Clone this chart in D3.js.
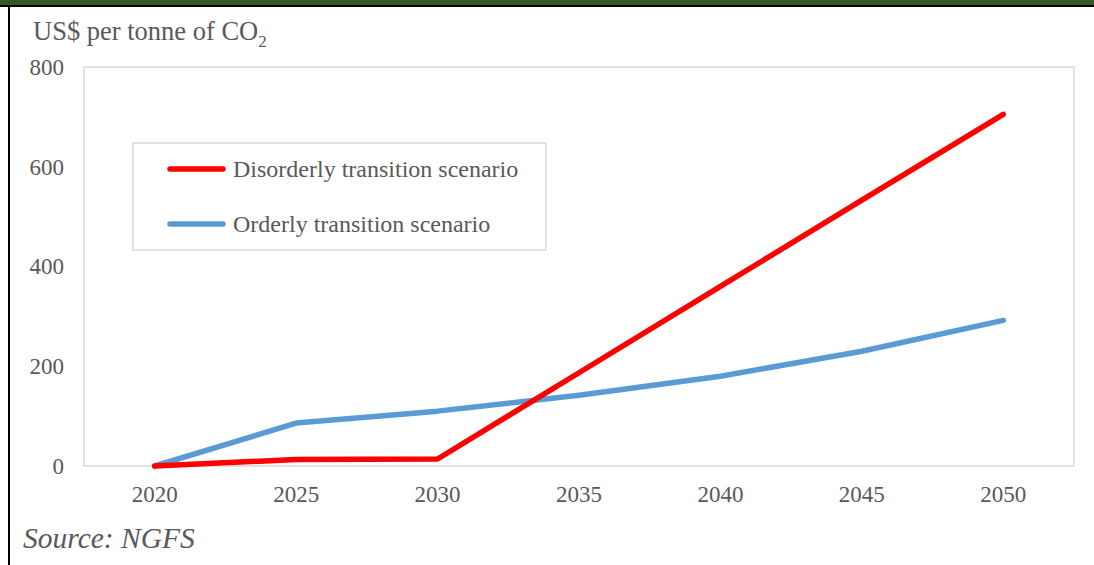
<!DOCTYPE html>
<html>
<head>
<meta charset="utf-8">
<script src="https://cdn.jsdelivr.net/npm/d3@7"></script>
<style>
  html, body { margin: 0; padding: 0; background: #fff; }
  svg { display: block; }
</style>
</head>
<body>
<svg id="chart" width="1094" height="565"></svg>
<script>
const years = ["2020", "2025", "2030", "2035", "2040", "2045", "2050"];
const disorderly = [0, 13, 14, 187, 360, 533, 705];
const orderly = [0, 86, 110, 142, 180, 230, 292];
const yTicks = [0, 200, 400, 600, 800];
const seriesNames = ["Disorderly transition scenario", "Orderly transition scenario"];
const seriesColors = ["#ff0000", "#5b9bd5"];

const svg = d3.select("#chart");
const W = 1094, H = 565;
const font = "'Liberation Serif', 'Times New Roman', serif";

// frame
svg.append("rect").attr("x", 0).attr("y", 0).attr("width", W).attr("height", 5).attr("fill", "#375623");
svg.append("rect").attr("x", 0).attr("y", 5).attr("width", W).attr("height", 2).attr("fill", "#000");
svg.append("rect").attr("x", 8).attr("y", 5).attr("width", 2).attr("height", H - 5).attr("fill", "#000");

const plot = { left: 84, top: 67, right: 1074, bottom: 466 };

const x = d3.scaleBand().domain(years).range([plot.left, plot.right]);
const y = d3.scaleLinear().domain([0, 800]).range([plot.bottom, plot.top]);

// plot area border
svg.append("rect")
  .attr("x", plot.left).attr("y", plot.top)
  .attr("width", plot.right - plot.left).attr("height", plot.bottom - plot.top)
  .attr("fill", "none").attr("stroke", "#d9d9d9").attr("stroke-width", 1.5);

// y axis
const yAxis = d3.axisLeft(y).tickValues(yTicks).tickSize(0).tickPadding(20);
const gy = svg.append("g").attr("transform", `translate(${plot.left},0)`).call(yAxis);
gy.select(".domain").remove();
gy.selectAll("text").attr("font-family", font).attr("font-size", 23).attr("fill", "#595959");

// x axis
const xAxis = d3.axisBottom(x).tickSize(0).tickPadding(20);
const gx = svg.append("g").attr("transform", `translate(0,${plot.bottom})`).call(xAxis);
gx.select(".domain").remove();
gx.selectAll("text").attr("font-family", font).attr("font-size", 23).attr("fill", "#595959");

// lines
const line = d3.line()
  .x((d, i) => x(years[i]) + x.bandwidth() / 2)
  .y(d => y(d));

[orderly, disorderly].forEach((vals, j) => {
  const k = j === 0 ? 1 : 0;
  svg.append("path")
    .datum(vals)
    .attr("d", line)
    .attr("fill", "none")
    .attr("stroke", seriesColors[k])
    .attr("stroke-width", 5.5)
    .attr("stroke-linecap", "round")
    .attr("stroke-linejoin", "round");
});

// legend
const lg = svg.append("g");
lg.append("rect").attr("x", 133).attr("y", 143).attr("width", 413).attr("height", 107)
  .attr("fill", "#fff").attr("stroke", "#d9d9d9").attr("stroke-width", 1.5);
seriesNames.forEach((name, i) => {
  const cy = 169 + i * 55;
  lg.append("line").attr("x1", 170).attr("x2", 223).attr("y1", cy).attr("y2", cy)
    .attr("stroke", seriesColors[i]).attr("stroke-width", 5.5).attr("stroke-linecap", "round");
  lg.append("text").attr("x", 233).attr("y", cy + 8).text(name)
    .attr("font-family", font).attr("font-size", 24).attr("fill", "#595959");
});

// title
const t = svg.append("text").attr("x", 33).attr("y", 40)
  .attr("font-family", font).attr("font-size", 26.5).attr("fill", "#595959");
t.append("tspan").text("US$ per tonne of CO");
t.append("tspan").text("2").attr("font-size", 17).attr("dy", 7);

// source
svg.append("text").attr("x", 23).attr("y", 548).text("Source: NGFS")
  .attr("font-family", font).attr("font-size", 29.5).attr("font-style", "italic").attr("fill", "#595959");
</script>
</body>
</html>
